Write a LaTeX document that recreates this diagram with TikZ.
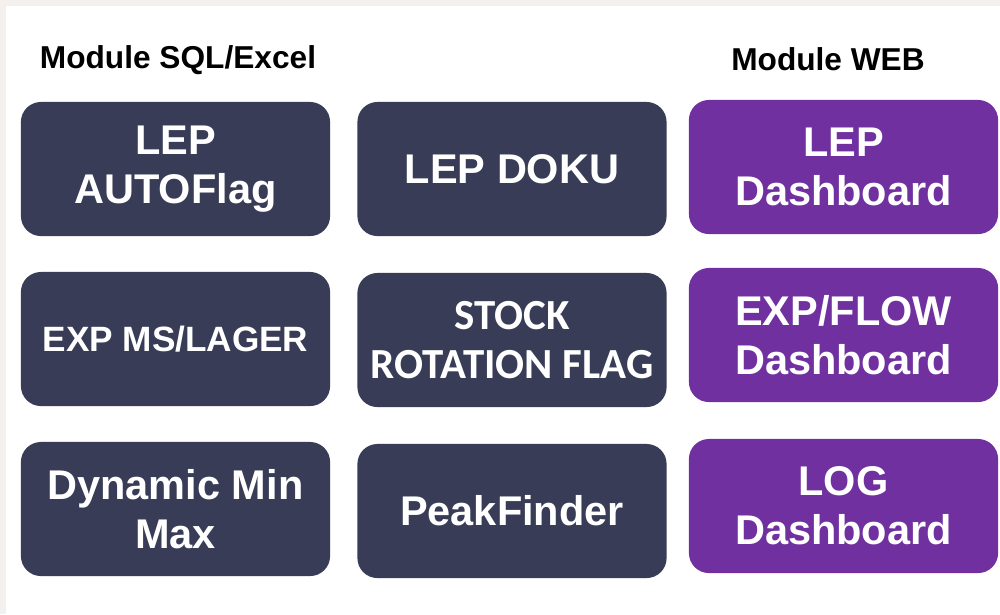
\documentclass[tikz,border=0pt]{standalone}
\usepackage{fontspec}
\setmainfont{Liberation Sans}
\newfontfamily\carlito{Carlito}
\definecolor{navy}{RGB}{56, 60, 86}
\definecolor{lpurple}{RGB}{112, 48, 160}
\definecolor{lframe}{RGB}{243, 240, 237}

\begin{document}
\begin{tikzpicture}[x = 0.01cm, y = -0.01cm,
	modbox/.style = {rectangle, rounded corners = 0.2cm, minimum width = 3.09cm, minimum height = 1.34cm, inner sep = 0pt, align = center, text = white, font = \fontsize{11.8}{14}\selectfont\bfseries},
	sqlbox/.style = {modbox, fill = navy},
	webbox/.style = {modbox, fill = lpurple},
	head/.style = {font = \fontsize{9}{11}\selectfont\bfseries, inner sep = 0pt}]
			% frame
			\fill[lframe] (0,0) rectangle (1000,614);
			\fill[white] (6,6) rectangle (1000,614);
			% headers
			\node (hsql) at (178,60.5) [head] {Module SQL/Excel};
			\node (hweb) at (828,59) [head] {Module WEB};
			% SQL / Excel
			\node (a) at (175.5,169) [sqlbox] {LEP\\AUTOFlag};
			\node (b) at (175.5,339) [sqlbox, font = \fontsize{10}{12}\selectfont\bfseries] {EXP MS/LAGER};
			\node (c) at (175.5,509) [sqlbox] {Dynamic Min\\Max};
			\node (d) at (512,169) [sqlbox] {LEP DOKU};
			\node (e) at (512,340) [sqlbox, font = \fontsize{12.2}{14}\selectfont\carlito\bfseries] {STOCK\\ROTATION FLAG};
			\node (f) at (512,511) [sqlbox] {PeakFinder};
			% WEB
			\node (g) at (843.5,167) [webbox] {LEP\\Dashboard};
			\node (h) at (843.5,335) [webbox] {EXP/FLOW\\Dashboard};
			\node (i) at (843.5,506) [webbox] {LOG\\Dashboard};
\end{tikzpicture}
\end{document}
